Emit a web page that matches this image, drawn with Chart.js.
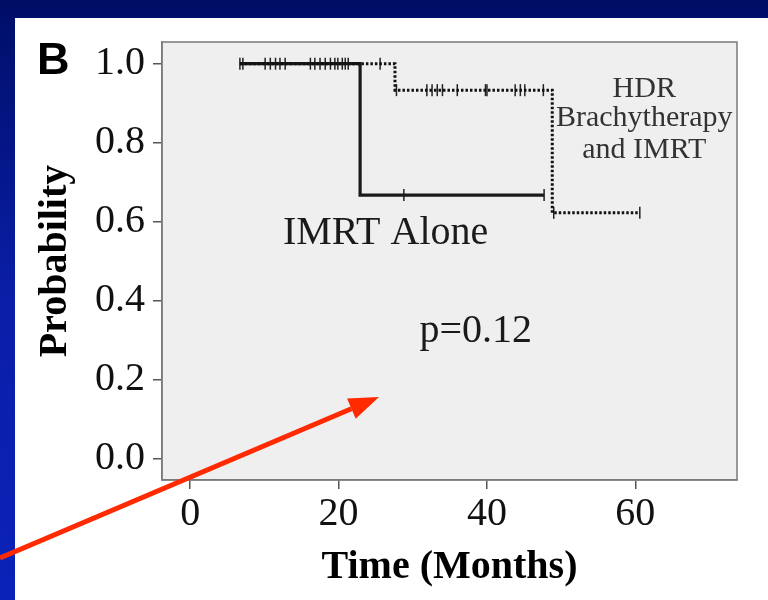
<!DOCTYPE html>
<html>
<head>
<meta charset="utf-8">
<script src="https://cdn.jsdelivr.net/npm/chart.js@4"></script>
<style>
  html, body { margin: 0; padding: 0; }
  body {
    width: 768px; height: 600px; overflow: hidden; position: relative;
    background: linear-gradient(to bottom, #000c62 0px, #00106e 30px, #0a1ea8 300px, #0b22b8 600px);
  }
  #panel { position: absolute; left: 15px; top: 18px; right: 0; bottom: 0; background: #fff; }
  #chart { position: absolute; left: 0; top: 0; }
</style>
</head>
<body>
<div id="panel"></div>
<canvas id="chart" width="768" height="600"></canvas>
<script>
// Kaplan-Meier steps (months, probability)
const imrtTimes = [6.7, 22.9, 47.7];
const imrtSurv = [1.0, 0.667, 0.667];
const hdrTimes = [6.7, 27.6, 48.8, 60.6];
const hdrSurv = [1.0, 0.933, 0.622, 0.622];

// censored observations (months)
const imrtCensor = [6.7, 10.1, 11.5, 12.8, 16.8, 18.2, 19.5, 20.9, 28.8, 47.7];
const hdrCensor = [7.1, 10.8, 12.1, 16.2, 17.5, 18.9, 19.9, 20.5, 21.3, 25.6,
                   27.8, 31.9, 32.6, 33.3, 34.0, 36.0, 39.8, 40.0, 43.8, 44.5, 45.1, 47.6,
                   49.0, 60.6];

const xTicks = [0, 20, 40, 60];
const yTicks = [0.0, 0.2, 0.4, 0.6, 0.8, 1.0];

function stepPoints(times, surv) {
  return times.map((t, i) => ({ x: t, y: surv[i] }));
}

function survAt(times, surv, t) {
  let s = surv[0];
  for (let i = 0; i < times.length; i++) {
    if (times[i] <= t) s = surv[i];
  }
  return s;
}

function censorPoints(censor, times, surv) {
  return censor.map(t => ({ x: t, y: survAt(times, surv, t) }));
}

const serif = "'Liberation Serif', 'Times New Roman', serif";

// box, texts and the slide arrow
const decor = {
  id: "decor",
  beforeDraw(chart) {
    const { ctx, chartArea: a } = chart;
    ctx.save();
    ctx.fillStyle = "#efefef";
    ctx.fillRect(a.left, a.top, a.right - a.left, a.bottom - a.top);
    ctx.restore();
  },
  afterDatasetsDraw(chart) {
    const { ctx, chartArea: a } = chart;
    ctx.save();
    ctx.strokeStyle = "#7a7a7a";
    ctx.lineWidth = 1.5;
    ctx.strokeRect(a.left, a.top, a.right - a.left, a.bottom - a.top);
    ctx.restore();
  },
  afterDraw(chart) {
    const { ctx } = chart;
    const xs = chart.scales.x, ys = chart.scales.y;
    ctx.save();

    // panel letter
    ctx.fillStyle = "#000";
    ctx.font = "bold 45px 'Liberation Sans', Arial, sans-serif";
    ctx.textAlign = "left";
    ctx.textBaseline = "alphabetic";
    ctx.fillText("B", 37, 74);

    ctx.fillStyle = "#1a1a1a";
    ctx.font = "40px " + serif;
    ctx.fillText("IMRT Alone", xs.getPixelForValue(12.5), ys.getPixelForValue(0.542));
    ctx.textAlign = "center";
    ctx.fillText("p=0.12", xs.getPixelForValue(38.5), ys.getPixelForValue(0.294));

    ctx.fillStyle = "#333";
    ctx.font = "30px " + serif;
    const cx = xs.getPixelForValue(61.2);
    ctx.fillText("HDR", cx, ys.getPixelForValue(0.916));
    ctx.fillText("Brachytherapy", cx, ys.getPixelForValue(0.843));
    ctx.fillText("and IMRT", cx, ys.getPixelForValue(0.762));

    // red arrow
    const x0 = 0, y0 = 558, x1 = 379, y1 = 397;
    const ang = Math.atan2(y1 - y0, x1 - x0);
    const headLen = 30, headW = 11;
    const bx = x1 - headLen * Math.cos(ang), by = y1 - headLen * Math.sin(ang);
    ctx.strokeStyle = "#ff2a00";
    ctx.fillStyle = "#ff2a00";
    ctx.lineWidth = 5;
    ctx.beginPath();
    ctx.moveTo(x0, y0);
    ctx.lineTo(bx, by);
    ctx.stroke();
    ctx.beginPath();
    ctx.moveTo(x1, y1);
    ctx.lineTo(bx + headW * Math.sin(ang), by - headW * Math.cos(ang));
    ctx.lineTo(bx - headW * Math.sin(ang), by + headW * Math.cos(ang));
    ctx.closePath();
    ctx.fill();

    ctx.restore();
  }
};

const censorStyle = {
  showLine: false,
  pointStyle: "line",
  rotation: 90,
  pointRadius: 6,
  pointHoverRadius: 6,
  pointBorderWidth: 1.5,
  pointBorderColor: "#222",
  pointBackgroundColor: "#222"
};

new Chart(document.getElementById("chart").getContext("2d"), {
  type: "scatter",
  data: {
    datasets: [
      {
        label: "HDR Brachytherapy and IMRT",
        data: stepPoints(hdrTimes, hdrSurv),
        showLine: true,
        stepped: true,
        borderColor: "#111",
        borderWidth: 3,
        borderDash: [2.5, 2],
        pointRadius: 0
      },
      {
        label: "IMRT Alone",
        data: stepPoints(imrtTimes, imrtSurv),
        showLine: true,
        stepped: true,
        borderColor: "#1a1a1a",
        borderWidth: 3.2,
        pointRadius: 0
      },
      Object.assign({ label: "HDR censored", data: censorPoints(hdrCensor, hdrTimes, hdrSurv) }, censorStyle),
      Object.assign({ label: "IMRT censored", data: censorPoints(imrtCensor, imrtTimes, imrtSurv) }, censorStyle)
    ]
  },
  options: {
    responsive: false,
    animation: false,
    layout: { padding: { left: 0, top: 42, right: 31, bottom: 0 } },
    plugins: {
      legend: { display: false },
      tooltip: { enabled: false }
    },
    scales: {
      x: {
        type: "linear",
        min: -3.8,
        max: 73.7,
        afterBuildTicks: (scale) => { scale.ticks = xTicks.map(v => ({ value: v })); },
        afterFit: (scale) => { scale.height = 120; },
        ticks: {
          color: "#111",
          font: { family: serif, size: 40 },
          padding: 1,
          maxRotation: 0,
          callback: (v) => String(v)
        },
        grid: { drawOnChartArea: false, drawTicks: true, tickLength: 9, color: "#555", lineWidth: 1.5 },
        border: { display: true, color: "#7a7a7a", width: 1.5 },
        title: {
          display: true,
          text: "Time (Months)",
          color: "#000",
          font: { family: serif, size: 40, weight: "bold", lineHeight: 1.2 },
          padding: { top: 0, bottom: 8 }
        }
      },
      y: {
        type: "linear",
        min: -0.055,
        max: 1.055,
        afterBuildTicks: (scale) => { scale.ticks = yTicks.map(v => ({ value: v })); },
        afterFit: (scale) => { scale.width = 162; },
        ticks: {
          color: "#111",
          font: { family: serif, size: 40 },
          padding: 8,
          callback: (v) => Number(v).toFixed(1)
        },
        grid: { drawOnChartArea: false, drawTicks: true, tickLength: 9, color: "#555", lineWidth: 1.5 },
        border: { display: true, color: "#7a7a7a", width: 1.5 },
        title: {
          display: true,
          text: "Probability",
          color: "#000",
          font: { family: serif, size: 40, weight: "bold", lineHeight: 1.2 },
          padding: { top: 32, bottom: 0 }
        }
      }
    }
  },
  plugins: [decor]
});
</script>
</body>
</html>
